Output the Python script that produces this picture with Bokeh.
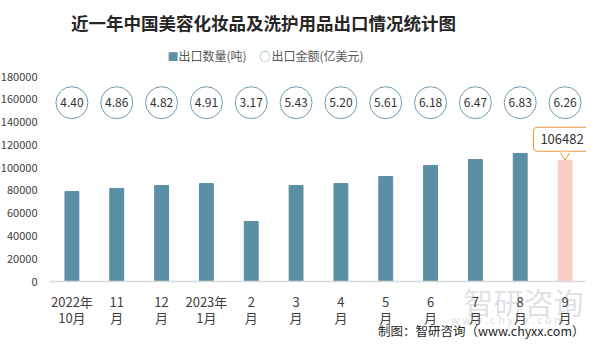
from bokeh.plotting import figure
from bokeh.models import ColumnDataSource, FixedTicker, Label, BasicTickFormatter, Range1d
from bokeh.core.properties import value
from bokeh.embed import file_html
from bokeh.resources import INLINE

# ---- data ----
months = ["2022年\n10月", "11\n月", "12\n月", "2023年\n1月", "2\n月", "3\n月",
          "4\n月", "5\n月", "6\n月", "7\n月", "8\n月", "9\n月"]
quantity = [79000, 81700, 84300, 86000, 52700, 84300, 86000, 92200, 101900, 107100, 112400, 106482]
amount = [4.40, 4.86, 4.82, 4.91, 3.17, 5.43, 5.20, 5.61, 6.18, 6.47, 6.83, 6.26]
y_ticks = [0, 20000, 40000, 60000, 80000, 100000, 120000, 140000, 160000, 180000]
title_text = "近一年中国美容化妆品及洗护用品出口情况统计图"
legend_qty = "出口数量(吨)"
legend_amt = "出口金额(亿美元)"
footer_text = "制图：智研咨询（www.chyxx.com）"

BAR = "#5b8fa6"
HILITE = "#f8d0c6"
ORANGE = "#e8923a"
CJK = "Noto Sans CJK SC"

n = len(months)
idx = list(range(n))
colors = [BAR] * (n - 1) + [HILITE]
circle_y = [157000] * n
src = ColumnDataSource(dict(x=idx, q=quantity, c=colors, cy=circle_y,
                            a=["%.2f" % v for v in amount]))

# layout: frame covers the whole figure; axes are placed at fixed locations
W, H = 586, 339
cat_px = 44.83              # pixels per category
y_px = 180000 / 205.0       # data units per pixel
x0 = -0.5 - 49 / cat_px
y0 = -(H - 281) * y_px
p = figure(width=W, height=H,
           x_range=Range1d(x0, x0 + W / cat_px), y_range=Range1d(y0, y0 + H * y_px),
           output_backend="svg", toolbar_location=None,
           min_border_left=0, min_border_right=0, min_border_top=0, min_border_bottom=0)
p.outline_line_color = None
p.xgrid.grid_line_color = None
p.ygrid.grid_line_color = None

p.vbar(x="x", top="q", width=0.31, color="c", source=src)
p.scatter(x="x", y="cy", size=32, marker="circle", fill_color="white",
          line_color="#6f9bb0", line_width=1, source=src)
p.text(x="x", y="cy", text="a", text_align="center", text_baseline="middle",
       text_font=value(CJK), text_font_size="12px", text_color="#333333", source=src)

# axes
p.yaxis.fixed_location = -0.5
p.yaxis.ticker = FixedTicker(ticks=y_ticks)
p.yaxis.formatter = BasicTickFormatter(use_scientific=False)
p.yaxis.axis_line_color = None
p.yaxis.major_tick_line_color = None
p.yaxis.minor_tick_line_color = None
p.yaxis.major_label_text_font = CJK
p.yaxis.major_label_text_font_size = "11px"
p.yaxis.major_label_text_color = "#404040"
p.yaxis.major_label_standoff = 6

p.xaxis.fixed_location = 0
p.xaxis.bounds = (-0.5, n - 0.5)
p.xaxis.ticker = FixedTicker(ticks=idx)
p.xaxis.major_label_overrides = {i: m for i, m in zip(idx, months)}
p.xaxis.axis_line_color = "#d9d9d9"
p.xaxis.axis_line_width = 1.5
p.xaxis.major_tick_line_color = None
p.xaxis.minor_tick_line_color = None
p.xaxis.major_label_text_font = CJK
p.xaxis.major_label_text_font_size = "13px"
p.xaxis.major_label_text_color = "#404040"
p.xaxis.major_label_text_line_height = 0.86
p.xaxis.major_label_standoff = 4

# callout for last value
last = n - 1
lab = Label(x=idx[last], y=quantity[last], text=str(quantity[last]), x_offset=-3, y_offset=21,
            text_align="center", text_baseline="middle", text_font=CJK,
            text_font_size="13px", text_color="#333333",
            background_fill_color="white", border_line_color=ORANGE, border_line_width=1,
            border_radius=4, padding=7)
p.add_layout(lab)
tip = quantity[last]
base = tip + 8.5 * y_px
lx = idx[last]
pf = p.patch([lx - 0.11, lx, lx + 0.11], [base, tip, base], fill_color="white", line_color=None)
pf.level = "overlay"
pl = p.line([lx - 0.1, lx, lx + 0.1], [base - 1.0 * y_px, tip, base - 1.0 * y_px],
            line_color=ORANGE, line_width=1)
pl.level = "overlay"

# texts (screen units: from frame left / frame bottom)
def slabel(x, y, text, **kw):
    p.add_layout(Label(x=x, y=y, x_units="screen", y_units="screen", text=text,
                       text_baseline="middle", text_font=CJK, **kw))

slabel(263, H - 22, title_text, text_align="center", text_font_size="17.5px",
       text_font_style="bold", text_color="#262626")
slabel(167, H - 55, "■", text_font_size="11px", text_color=BAR)
slabel(178, H - 55, legend_qty, text_font_size="12px", text_color="#595959")
slabel(259, H - 55, "○", text_font_size="11px", text_color="#6f9bb0")
slabel(271, H - 55, legend_amt, text_font_size="12px", text_color="#595959")
# watermark
wm = dict(text_align="center", text_color="#a9b1bd", level="underlay")
slabel(523, H - 300, "智研咨询", text_font_size="30px", text_alpha=0.4, **wm)
slabel(507, H - 318, "w w w . c h y x x . c o m", text_font_size="11px", text_alpha=0.45, **wm)
slabel(584, 9, footer_text, text_align="right", text_font_size="12.5px", text_color="#262626")

open("out.html", "w").write(file_html(p, INLINE))
